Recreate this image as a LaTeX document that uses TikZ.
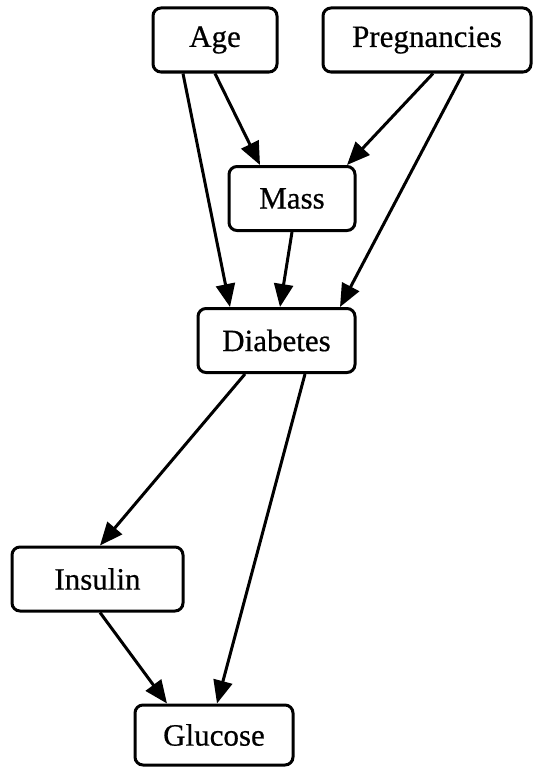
\documentclass[tikz,border=0pt]{standalone}
\usepackage{fontspec}
\setmainfont{Liberation Serif}[FakeBold=0.6]
\usetikzlibrary{arrows.meta}
\begin{document}
\begin{tikzpicture}[x=1pt,y=-1pt,
  var/.style={draw, line width=3pt, rounded corners=8pt, font=\fontsize{31}{34}\selectfont,
    inner sep=0pt, minimum height=64pt},
  link/.style={line width=3pt, -{Triangle[length=23pt,width=19pt]}}]
\useasboundingbox (0,0) rectangle (534,768);
% variables
\node[var, minimum width=124pt] (age)  at (215,40)    {Age};
\node[var, minimum width=208pt] (preg) at (427,40)    {Pregnancies};
\node[var, minimum width=126pt] (mass) at (292,198.5) {Mass};
\node[var, minimum width=157pt] (diab) at (276.5,340.5) {Diabetes};
\node[var, minimum width=171pt] (ins)  at (97.5,579)  {Insulin};
\node[var, minimum width=158pt, minimum height=60pt] (glu) at (214,735) {Glucose};
% dependencies
\draw[link] ([xshift=-32pt]age.south)  -- ([xshift=-46.5pt]diab.north);
\draw[link] (age.south)                -- ([xshift=-32pt]mass.north);
\draw[link] ([xshift=6pt]preg.south)   -- ([xshift=55pt]mass.north);
\draw[link] ([xshift=36pt]preg.south)  -- ([xshift=63.5pt]diab.north);
\draw[link] (mass.south)               -- ([xshift=-12pt]mass.south |- diab.north);
\draw[link] ([xshift=-31.5pt]diab.south) -- ([xshift=2.5pt]ins.north);
\draw[link] ([xshift=28.5pt]diab.south)  -- ([xshift=3pt]glu.north);
\draw[link] ([xshift=2.5pt]ins.south)  -- ([xshift=-47pt]glu.north);
\end{tikzpicture}
\end{document}
